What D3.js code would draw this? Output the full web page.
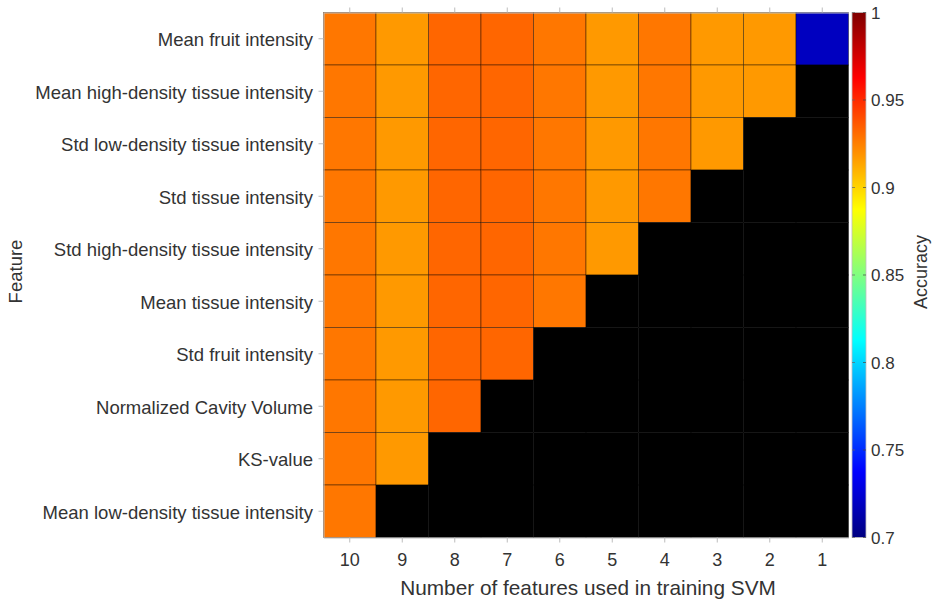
<!DOCTYPE html>
<html>
<head>
<meta charset="utf-8">
<script src="https://cdn.jsdelivr.net/npm/d3@7"></script>
<style>
  body { margin: 0; background: #fff; }
  svg { display: block; font-family: "Liberation Sans", Arial, sans-serif; }
</style>
</head>
<body>
<svg id="chart" width="932" height="601"></svg>
<script>
// ---- data ----
const features = [
  "Mean fruit intensity",
  "Mean high-density tissue intensity",
  "Std low-density tissue intensity",
  "Std tissue intensity",
  "Std high-density tissue intensity",
  "Mean tissue intensity",
  "Std fruit intensity",
  "Normalized Cavity Volume",
  "KS-value",
  "Mean low-density tissue intensity"
];
const numFeatures = [10, 9, 8, 7, 6, 5, 4, 3, 2, 1];
const accuracy = [0.9275, 0.9175, 0.9325, 0.9325, 0.9275, 0.9175, 0.9275, 0.9175, 0.9175, 0.719];
const colorTicks = [0.7, 0.75, 0.8, 0.85, 0.9, 0.95, 1];

// ---- layout ----
const svg = d3.select("#chart");
const L = 323.5, R = 848.5, T = 12.5, B = 537.5;
const textColor = "#333";

const x = d3.scaleBand().domain(numFeatures).range([L, R]);
const y = d3.scaleBand().domain(features).range([T, B]);

function jet(t) {
  const c = v => Math.max(0, Math.min(1, v));
  const r = c(1.5 - Math.abs(4 * t - 3));
  const g = c(1.5 - Math.abs(4 * t - 2));
  const b = c(1.5 - Math.abs(4 * t - 1));
  return d3.rgb(r * 255, g * 255, b * 255).formatHex();
}
const cmin = 0.7, cmax = 1;
const color = v => jet((v - cmin) / (cmax - cmin));

// cells
const cells = [];
numFeatures.forEach((k, ci) => {
  features.forEach((f, ri) => {
    cells.push({ k, f, v: ri < k ? accuracy[ci] : null });
  });
});

svg.append("g").selectAll("rect").data(cells).join("rect")
  .attr("x", d => x(d.k))
  .attr("y", d => y(d.f))
  .attr("width", x.bandwidth())
  .attr("height", y.bandwidth())
  .attr("fill", d => d.v == null ? "#000" : color(d.v))
  .attr("stroke", "rgba(0,0,0,0.4)")
  .attr("stroke-width", 1);

// axes (light gray, outward ticks)
const axisColor = "#bdbdbd";
const xb = svg.append("g").attr("transform", `translate(0,${B})`)
  .call(d3.axisBottom(x).tickSize(5).tickSizeOuter(0));
const xt = svg.append("g").attr("transform", `translate(0,${T})`)
  .call(d3.axisTop(x).tickSize(5).tickSizeOuter(0).tickFormat(""));
const yl = svg.append("g").attr("transform", `translate(${L},0)`)
  .call(d3.axisLeft(y).tickSize(5).tickSizeOuter(0));
[xb, xt, yl].forEach(g => {
  g.selectAll(".domain").attr("stroke", axisColor);
  g.selectAll(".tick line").attr("stroke", axisColor);
});
xb.selectAll("text").attr("font-size", 18).attr("fill", textColor).attr("dy", "1.15em");
yl.selectAll("text").attr("font-size", 18.5).attr("fill", textColor).attr("dx", "-2.5").attr("dy", "0.4em");

// axis titles
svg.append("text").attr("x", 588).attr("y", 595)
  .attr("text-anchor", "middle").attr("font-size", 20.8).attr("fill", textColor)
  .text("Number of features used in training SVM");
svg.append("text").attr("transform", `translate(22,271.5) rotate(-90)`)
  .attr("text-anchor", "middle").attr("font-size", 18.5).attr("fill", textColor)
  .text("Feature");

// colorbar
const cbX = 852, cbW = 14;
const cy = d3.scaleLinear().domain([cmin, cmax]).range([B, T]);
const defs = svg.append("defs");
const grad = defs.append("linearGradient").attr("id", "jetgrad")
  .attr("x1", 0).attr("y1", 1).attr("x2", 0).attr("y2", 0);
d3.range(0, 65).forEach(i => {
  const t = i / 64;
  grad.append("stop").attr("offset", t).attr("stop-color", jet(t));
});
svg.append("rect").attr("x", cbX).attr("y", T).attr("width", cbW).attr("height", B - T)
  .attr("fill", "url(#jetgrad)").attr("stroke", "#bdbdbd").attr("stroke-width", 0.8);
const cb = svg.append("g");
cb.selectAll("line.l").data(colorTicks).join("line").attr("class", "l")
  .attr("x1", cbX).attr("x2", cbX + 3).attr("y1", d => cy(d)).attr("y2", d => cy(d))
  .attr("stroke", "#666").attr("stroke-width", 0.7);
cb.selectAll("line.r").data(colorTicks).join("line").attr("class", "r")
  .attr("x1", cbX + cbW - 3).attr("x2", cbX + cbW).attr("y1", d => cy(d)).attr("y2", d => cy(d))
  .attr("stroke", "#444").attr("stroke-width", 0.7);
cb.selectAll("text").data(colorTicks).join("text")
  .attr("x", cbX + cbW + 5).attr("y", d => cy(d)).attr("dy", "0.38em")
  .attr("font-size", 17).attr("fill", textColor)
  .text(d => d3.format("~g")(d));
svg.append("text").attr("transform", `translate(927,272) rotate(-90)`)
  .attr("text-anchor", "middle").attr("font-size", 18).attr("fill", textColor)
  .text("Accuracy");
</script>
</body>
</html>
